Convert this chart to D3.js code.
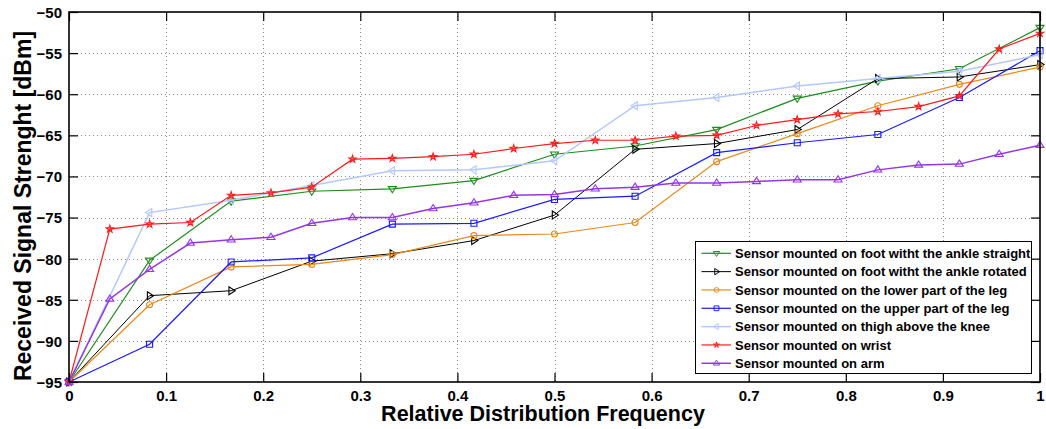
<!DOCTYPE html>
<html><head><meta charset="utf-8">
<script src="https://cdn.jsdelivr.net/npm/d3@7"></script>
<style>
html,body{margin:0;padding:0;background:#fff;}
svg text{font-family:"Liberation Sans",Arial,Helvetica,sans-serif;font-weight:bold;}
</style></head>
<body><svg id="chart" width="1046" height="429"></svg>
<script>
const x12 = [0, 0.083, 0.167, 0.25, 0.333, 0.417, 0.5, 0.583, 0.667, 0.75, 0.833, 0.917, 1];
const x24 = [0, 0.042, 0.083, 0.125, 0.167, 0.208, 0.25, 0.292, 0.333, 0.375, 0.417, 0.458, 0.5,
             0.542, 0.583, 0.625, 0.667, 0.708, 0.75, 0.792, 0.833, 0.875, 0.917, 0.958, 1];

const footStraight = [-95, -80.2, -73.0, -71.8, -71.5, -70.5, -67.3, -66.3, -64.3, -60.5, -58.4, -56.9, -51.9];
const footRotated  = [-95, -84.5, -83.9, -80.3, -79.4, -77.8, -74.7, -66.7, -66.0, -64.3, -58.1, -57.9, -56.4];
const lowerLeg     = [-95, -85.6, -81.0, -80.7, -79.5, -77.2, -77.0, -75.6, -68.2, -64.8, -61.4, -58.8, -56.7];
const upperLeg     = [-95, -90.4, -80.4, -79.9, -75.8, -75.7, -72.8, -72.4, -67.1, -65.9, -64.9, -60.4, -54.7];
const thigh        = [-95, -74.4, -72.9, -71.1, -69.3, -69.2, -68.1, -61.4, -60.4, -59.0, -58.1, -57.2, -55.2];
const wrist        = [-95, -76.4, -75.8, -75.6, -72.3, -72.0, -71.3, -67.9, -67.8, -67.6, -67.3, -66.6, -66.0,
                      -65.6, -65.6, -65.1, -65.0, -63.8, -63.1, -62.4, -62.1, -61.5, -60.2, -54.5, -52.6];
const arm          = [-95, -84.9, -81.3, -78.1, -77.7, -77.4, -75.7, -75.0, -75.0, -73.9, -73.2, -72.3, -72.2,
                      -71.5, -71.3, -70.8, -70.8, -70.6, -70.4, -70.4, -69.2, -68.6, -68.5, -67.3, -66.2];

const seriesNames = [
  "Sensor mounted on foot witht the ankle straight",
  "Sensor mounted on foot witht the ankle rotated",
  "Sensor mounted on the lower part of the leg",
  "Sensor mounted on the upper part of the leg",
  "Sensor mounted on thigh above the knee",
  "Sensor mounted on wrist",
  "Sensor mounted on arm"
];
const xTicks = [0, 0.1, 0.2, 0.3, 0.4, 0.5, 0.6, 0.7, 0.8, 0.9, 1];
const xTickLabels = ["0", "0.1", "0.2", "0.3", "0.4", "0.5", "0.6", "0.7", "0.8", "0.9", "1"];
const yTicks = [-95, -90, -85, -80, -75, -70, -65, -60, -55, -50];
const xTitle = "Relative Distribution Frequency";
const yTitle = "Received Signal Strenght [dBm]";

const series = [
  {name: seriesNames[0], xs: x12, ys: footStraight, color: "#1c8c1c", marker: "tdown", width: 1.2},
  {name: seriesNames[1], xs: x12, ys: footRotated,  color: "#000000", marker: "tright", width: 1},
  {name: seriesNames[2], xs: x12, ys: lowerLeg,     color: "#e8891a", marker: "circle", width: 1.2},
  {name: seriesNames[3], xs: x12, ys: upperLeg,     color: "#1a1aff", marker: "square", width: 1.2},
  {name: seriesNames[4], xs: x12, ys: thigh,        color: "#b4c8ff", marker: "tleft", width: 1.5},
  {name: seriesNames[5], xs: x24, ys: wrist,        color: "#ff1a1a", marker: "star", width: 1.2},
  {name: seriesNames[6], xs: x24, ys: arm,          color: "#9535e6", marker: "tup", width: 1.5}
];

const L = 69, R = 1040, T = 12, B = 382;
const svg = d3.select("#chart");
const x = d3.scaleLinear().domain([0, 1]).range([L, R]);
const y = d3.scaleLinear().domain([-95, -50]).range([B, T]);

// grid
const grid = svg.append("g").attr("stroke", "#8a8a8a").attr("stroke-width", 1).attr("stroke-dasharray", "1,3");
grid.selectAll(".gx").data(xTicks.slice(1, -1)).enter().append("line")
  .attr("x1", d => Math.round(x(d)) + 0.5).attr("x2", d => Math.round(x(d)) + 0.5)
  .attr("y1", T).attr("y2", B);
grid.selectAll(".gy").data(yTicks.slice(1, -1)).enter().append("line")
  .attr("y1", d => Math.round(y(d)) + 0.5).attr("y2", d => Math.round(y(d)) + 0.5)
  .attr("x1", L).attr("x2", R);

// axes (ticks inward)
const tl = 9;
const axB = svg.append("g").attr("transform", `translate(0,${B})`)
  .call(d3.axisBottom(x).tickValues(xTicks).tickSize(-tl).tickPadding(6).tickFormat((d, i) => xTickLabels[i]));
const axT = svg.append("g").attr("transform", `translate(0,${T})`)
  .call(d3.axisTop(x).tickValues(xTicks).tickSize(-tl).tickFormat(""));
const axL = svg.append("g").attr("transform", `translate(${L},0)`)
  .call(d3.axisLeft(y).tickValues(yTicks).tickSize(-tl).tickPadding(7).tickFormat(d3.format("d")));
const axR = svg.append("g").attr("transform", `translate(${R},0)`)
  .call(d3.axisRight(y).tickValues(yTicks).tickSize(-tl).tickFormat(""));
[axB, axT, axL, axR].forEach(a => {
  a.select(".domain").remove();
  a.selectAll(".tick line").attr("stroke", "#000").attr("stroke-width", 1.2);
  a.selectAll("text").attr("fill", "#000").attr("font-size", 15).attr("font-weight", "bold")
    .style("font-family", '"Liberation Sans",Arial,sans-serif');
});
axB.selectAll("text").attr("dy", null).attr("y", 18.5);
axL.selectAll("text").attr("dy", "0.36em");

// series
const line = d3.line().x(d => x(d[0])).y(d => y(d[1]));
function markerPath(type) {
  const r = 4;
  switch (type) {
    case "tdown": return `M${-r},${-r*0.55}L${r},${-r*0.55}L0,${r}Z`;
    case "tup": return `M${-r},${r*0.55}L${r},${r*0.55}L0,${-r}Z`;
    case "tright": return `M${-r*0.55},${-r}L${-r*0.55},${r}L${r},0Z`;
    case "tleft": return `M${r*0.55},${-r}L${r*0.55},${r}L${-r},0Z`;
    case "square": return `M-3,-3H3V3H-3Z`;
    case "circle": return d3.symbol().type(d3.symbolCircle).size(28)();
    case "star": return d3.symbol().type(d3.symbolStar).size(16)();
  }
}
const plot = svg.append("g");
series.forEach(s => {
  const pts = s.xs.map((xv, i) => [xv, s.ys[i]]);
  const g = plot.append("g");
  g.append("path").datum(pts).attr("d", line).attr("fill", "none")
    .attr("stroke", s.color).attr("stroke-width", s.width);
  g.selectAll("path.m").data(pts).enter().append("path").attr("class", "m")
    .attr("d", markerPath(s.marker))
    .attr("transform", d => `translate(${x(d[0])},${y(d[1])})`)
    .attr("fill", s.marker === "star" ? s.color : "none")
    .attr("fill-opacity", s.marker === "star" ? 0.3 : 0)
    .attr("stroke", s.color).attr("stroke-width", 1.1);
});

// box
svg.append("rect").attr("x", L).attr("y", T).attr("width", R - L).attr("height", B - T)
  .attr("fill", "none").attr("stroke", "#000").attr("stroke-width", 1.6);

// titles
svg.append("text").attr("x", 543).attr("y", 421).attr("text-anchor", "middle")
  .attr("font-size", 21.5).attr("fill", "#000").text(xTitle);
svg.append("text").attr("transform", "translate(31,206) rotate(-90)").attr("text-anchor", "middle")
  .attr("font-size", 23).attr("fill", "#000").text(yTitle);

// legend
const lg = svg.append("g");
lg.append("rect").attr("x", 695.5).attr("y", 241.5).attr("width", 336).attr("height", 132)
  .attr("fill", "#fff").attr("stroke", "#000").attr("stroke-width", 1);
series.forEach((s, i) => {
  const cy = 253.3 + i * 18.33;
  lg.append("line").attr("x1", 701.5).attr("x2", 731).attr("y1", cy).attr("y2", cy)
    .attr("stroke", s.color).attr("stroke-width", s.width);
  lg.append("path").attr("d", markerPath(s.marker)).attr("transform", `translate(716.5,${cy}) scale(0.8)`)
    .attr("fill", s.marker === "star" ? s.color : "none")
    .attr("fill-opacity", s.marker === "star" ? 0.3 : 0)
    .attr("stroke", s.color).attr("stroke-width", 1.2);
  lg.append("text").attr("x", 735).attr("y", cy).attr("dy", "0.36em")
    .attr("font-size", 13).attr("fill", "#000").text(s.name);
});
</script></body></html>
